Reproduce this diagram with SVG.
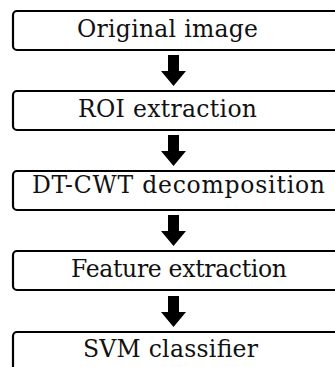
<svg xmlns="http://www.w3.org/2000/svg" width="335" height="367" viewBox="0 0 335 367">
<style>
.box{fill:#fff;stroke:#000;stroke-width:2.2}
.lbl{font-family:"DejaVu Serif","Liberation Serif",serif;font-size:23.5px;fill:#111}
.arr{fill:#000}
</style>
<rect width="335" height="367" fill="#fff"/>
<g id="n1"><rect class="box" x="13" y="11" width="340" height="39" rx="4"/><text class="lbl" x="77" y="37" textLength="181" lengthAdjust="spacing">Original image</text></g>
<g id="n2"><rect class="box" x="13" y="91" width="340" height="39" rx="4"/><text class="lbl" x="78" y="117" textLength="179" lengthAdjust="spacing">ROI extraction</text></g>
<g id="n3"><rect class="box" x="13" y="171" width="340" height="39" rx="4"/><text class="lbl" x="32" y="193" textLength="293" lengthAdjust="spacing">DT-CWT decomposition</text></g>
<g id="n4"><rect class="box" x="13" y="251" width="340" height="39" rx="4"/><text class="lbl" x="71" y="277" textLength="216" lengthAdjust="spacing">Feature extraction</text></g>
<g id="n5"><rect class="box" x="13" y="332" width="340" height="39" rx="4"/><text class="lbl" x="83" y="357" textLength="175" lengthAdjust="spacing">SVM classifier</text></g>
<g id="connectors">
<polygon class="arr" points="168,55 179,55 179,71 186,71 173.5,86 161,71 168,71"/>
<polygon class="arr" points="168,135 179,135 179,151 186,151 173.5,166 161,151 168,151"/>
<polygon class="arr" points="168,215 179,215 179,231 186,231 173.5,246 161,231 168,231"/>
<polygon class="arr" points="168,296 179,296 179,312 186,312 173.5,327 161,312 168,312"/>
</g>
</svg>
